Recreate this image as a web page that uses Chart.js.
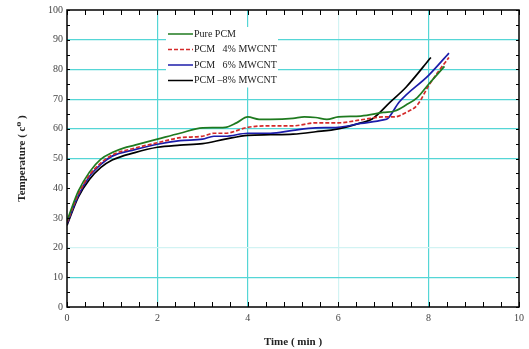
<!DOCTYPE html>
<html>
<head>
<meta charset="utf-8">
<script src="https://cdn.jsdelivr.net/npm/chart.js@4/dist/chart.umd.min.js"></script>
<style>
  html, body { margin: 0; padding: 0; background: #fff; }
  #wrap { width: 529px; height: 349px; position: relative; }
</style>
</head>
<body>
<div id="wrap"><canvas id="c"></canvas></div>
<script>
// series data (time in min, temperature in °C)
const seriesNames = ["Pure PCM", "PCM   4% MWCNT", "PCM   6% MWCNT", "PCM \u20138% MWCNT"];

const timePure = [0, 0.25, 0.5, 0.75, 1, 1.25, 1.5, 2, 2.5, 3, 3.5, 3.75, 4, 4.25, 4.5, 5, 5.25, 5.5, 5.75, 6, 6.5, 7, 7.25, 7.5, 7.75, 8, 8.35];
const tempPure = [29, 39, 45.5, 49.8, 52, 53.5, 54.5, 56.5, 58.5, 60.3, 60.5, 62, 64, 63.2, 63.2, 63.5, 64, 63.8, 63.2, 64, 64.3, 65.5, 66, 68, 70.5, 75, 81];

const time4 = [0, 0.25, 0.5, 0.75, 1, 1.5, 2, 2.5, 3, 3.25, 3.5, 4, 4.5, 5, 5.5, 6, 6.5, 7, 7.25, 7.5, 7.75, 8, 8.25, 8.45];
const temp4 = [28.5, 38, 44.5, 48.5, 51.2, 53.5, 55.3, 57, 57.5, 58.5, 58.5, 60.5, 61, 61, 62, 62, 63, 64, 64, 65.5, 68, 74.5, 80, 84];

const time6 = [0, 0.25, 0.5, 0.75, 1, 1.5, 2, 2.5, 3, 3.25, 3.5, 4, 4.5, 5, 5.5, 6, 6.5, 7, 7.1, 7.35, 8, 8.45];
const temp6 = [28, 37.5, 44, 48, 50.8, 53, 54.8, 56, 56.5, 57.5, 57.5, 58.5, 58.5, 59.5, 60.3, 60.5, 61.8, 63, 63.5, 69, 78, 85.5];

const time8 = [0, 0.25, 0.5, 0.75, 1, 1.5, 2, 2.5, 3, 3.5, 4, 4.5, 5, 5.5, 6, 6.5, 6.75, 7.15, 7.5, 8.05];
const temp8 = [27.5, 37, 43, 47, 49.5, 52, 53.8, 54.5, 55, 56.5, 57.8, 58, 58.2, 59, 60, 62, 63.3, 69, 74, 84];

const xTicks = [0, 2, 4, 6, 8, 10];
const yTicks = [0, 10, 20, 30, 40, 50, 60, 70, 80, 90, 100];

const SERIF = "'Liberation Serif', 'DejaVu Serif', serif";
const CYAN = "#55d6d6";
const CYAN_FAINT = "#d2f3f3";

function pts(xs, ys) { return xs.map((x, i) => ({ x: x, y: ys[i] })); }

const styles = [
  { color: "#1f7a1f", dash: [] },
  { color: "#d42a2a", dash: [4, 2] },
  { color: "#1c1caa", dash: [] },
  { color: "#000000", dash: [] },
];

const datasets = [
  pts(timePure, tempPure), pts(time4, temp4), pts(time6, temp6), pts(time8, temp8)
].map((d, i) => ({
  label: seriesNames[i],
  data: d,
  borderColor: styles[i].color,
  borderDash: styles[i].dash,
  borderWidth: 1.7,
  pointRadius: 0,
  showLine: true,
  fill: false,
  cubicInterpolationMode: "monotone",
}));

// frame, inside minor ticks and a legend drawn inside the plot
const framePlugin = {
  id: "frame",
  afterDatasetsDraw(chart) {
    const { ctx, chartArea: a, scales } = chart;
    ctx.save();
    ctx.strokeStyle = "#000";
    ctx.lineWidth = 1;
    // minor ticks on x (every 0.4)
    for (let v = 0; v <= 10.001; v += 0.4) {
      const x = Math.round(scales.x.getPixelForValue(v)) + 0.5;
      ctx.beginPath();
      ctx.moveTo(x, a.bottom); ctx.lineTo(x, a.bottom - 5);
      ctx.moveTo(x, a.top); ctx.lineTo(x, a.top + 5);
      ctx.stroke();
    }
    // minor ticks on y (every 5)
    for (let v = 0; v <= 100; v += 5) {
      const y = Math.round(scales.y.getPixelForValue(v)) + 0.5;
      ctx.beginPath();
      ctx.moveTo(a.left, y); ctx.lineTo(a.left + 3, y);
      ctx.moveTo(a.right, y); ctx.lineTo(a.right - 3, y);
      ctx.stroke();
    }
    ctx.lineWidth = 1.5;
    ctx.strokeRect(a.left, a.top, a.right - a.left, a.bottom - a.top);

    // legend
    const lx = a.left + 101, ly = a.top + 24, rowH = 15.5;
    ctx.fillStyle = "#fff";
    ctx.fillRect(lx - 2, ly - 7, 112, rowH * 3 + 14);
    ctx.font = "10px " + SERIF;
    ctx.textBaseline = "middle";
    datasets.forEach((ds, i) => {
      const y = ly + i * rowH;
      ctx.beginPath();
      ctx.strokeStyle = ds.borderColor;
      ctx.lineWidth = 1.5;
      ctx.setLineDash(ds.borderDash);
      ctx.moveTo(lx, y); ctx.lineTo(lx + 25, y);
      ctx.stroke();
      ctx.setLineDash([]);
      ctx.fillStyle = "#222";
      ctx.fillText(ds.label, lx + 26, y);
    });
    ctx.restore();
  },
};

new Chart(document.getElementById("c"), {
  type: "scatter",
  data: { datasets },
  options: {
    responsive: true,
    maintainAspectRatio: false,
    animation: false,
    layout: { padding: { top: 8, right: 5, left: 16, bottom: 0 } },
    plugins: { legend: { display: false }, tooltip: { enabled: false } },
    scales: {
      x: {
        type: "linear",
        min: 0, max: 10,
        afterBuildTicks: s => { s.ticks = xTicks.map(v => ({ value: v })); },
        afterFit: s => { s.height = 42; },
        border: { display: false },
        grid: {
          drawTicks: false,
          lineWidth: 1.2,
          color: c => (c.tick && (c.tick.value === 6) ? CYAN_FAINT : (c.tick && (c.tick.value === 0 || c.tick.value === 10) ? "rgba(0,0,0,0)" : CYAN)),
        },
        ticks: { padding: 5, color: "#444", font: { family: SERIF, size: 10 } },
        title: {
          display: true, text: "Time ( min )",
          color: "#222", font: { family: SERIF, size: 11, weight: "bold" },
          padding: { top: 8, bottom: 0 },
        },
      },
      y: {
        min: 0, max: 100,
        afterBuildTicks: s => { s.ticks = yTicks.map(v => ({ value: v })); },
        afterFit: s => { s.width = 51; },
        border: { display: false },
        grid: {
          drawTicks: false,
          lineWidth: 1.2,
          color: c => {
            const v = c.tick ? c.tick.value : -1;
            if (v === 0 || v === 100) return "rgba(0,0,0,0)";
            if (v === 20) return CYAN_FAINT;
            if (v === 30 || v === 40) return "rgba(0,0,0,0)";
            return CYAN;
          },
        },
        ticks: { padding: 4, color: "#444", font: { family: SERIF, size: 10 } },
        title: {
          display: true, text: "Temperature ( c\u2070 )",
          color: "#222", font: { family: SERIF, size: 11, weight: "bold" },
          padding: { top: 0, bottom: 0 },
        },
      },
    },
  },
  plugins: [framePlugin],
});
</script>
</body>
</html>
